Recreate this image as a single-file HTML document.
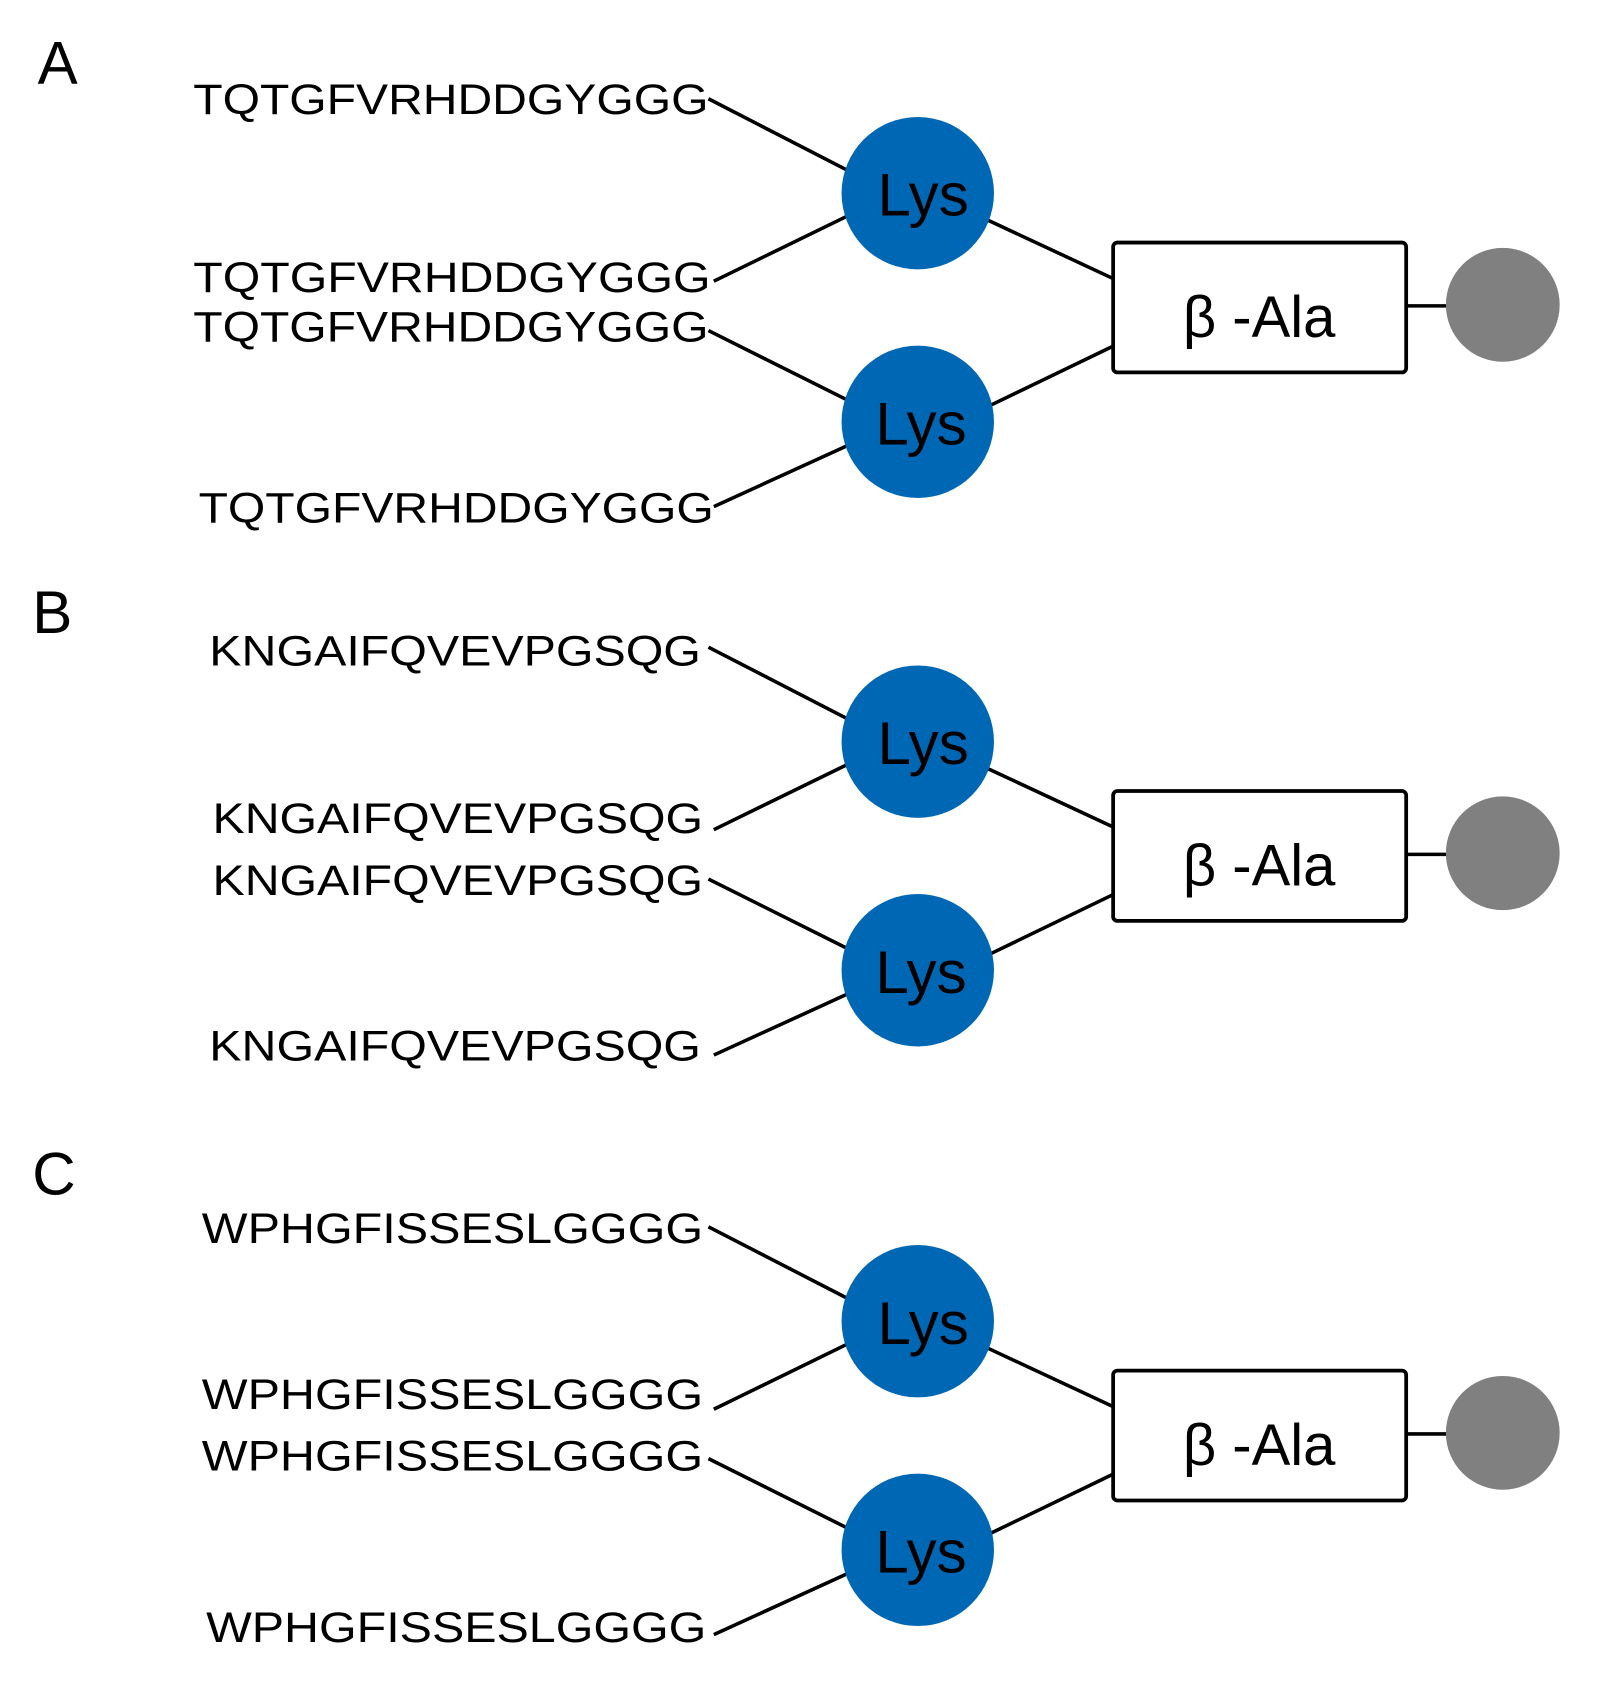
<!DOCTYPE html>
<html><head><meta charset="utf-8"><style>
html,body{margin:0;padding:0;background:#fff;}
svg{display:block;}
text{font-family:"Liberation Sans",Arial,sans-serif;fill:#000;}
</style></head><body>
<svg width="1623" height="1684" viewBox="0 0 1512 1569" preserveAspectRatio="none">
<defs>
<g id="panel">
  <line x1="660" y1="92" x2="792" y2="160" stroke="#000" stroke-width="3.3"/>
  <line x1="665" y1="262" x2="792" y2="200" stroke="#000" stroke-width="3.3"/>
  <line x1="660" y1="308" x2="792" y2="374" stroke="#000" stroke-width="3.3"/>
  <line x1="665" y1="472" x2="792" y2="414" stroke="#000" stroke-width="3.3"/>
  <line x1="920" y1="205" x2="1038" y2="260" stroke="#000" stroke-width="3.3"/>
  <line x1="922" y1="378" x2="1038" y2="322" stroke="#000" stroke-width="3.3"/>
  <line x1="1310" y1="285" x2="1350" y2="285" stroke="#000" stroke-width="3.3"/>
  <circle cx="855" cy="180" r="71" fill="#0067b4"/>
  <circle cx="855" cy="393" r="71" fill="#0067b4"/>
  <text x="860" y="201" font-size="56" text-anchor="middle">Lys</text>
  <text x="858" y="414" font-size="56" text-anchor="middle">Lys</text>
  <rect x="1037" y="226" width="273" height="121" rx="4" fill="#fff" stroke="#000" stroke-width="3.5"/>
  <text x="1173" y="314" font-size="54" text-anchor="middle">β -Ala</text>
  <circle cx="1400" cy="284" r="53" fill="#808080"/>
</g>
</defs>

<text x="35" y="78" font-size="56">A</text>
<use href="#panel"/>
<text x="180" y="106" font-size="40" textLength="480" lengthAdjust="spacingAndGlyphs">TQTGFVRHDDGYGGG</text>
<text x="180" y="272" font-size="40" textLength="482" lengthAdjust="spacingAndGlyphs">TQTGFVRHDDGYGGG</text>
<text x="180" y="318" font-size="40" textLength="480" lengthAdjust="spacingAndGlyphs">TQTGFVRHDDGYGGG</text>
<text x="185" y="487" font-size="40" textLength="480" lengthAdjust="spacingAndGlyphs">TQTGFVRHDDGYGGG</text>

<text x="30" y="590" font-size="56">B</text>
<use href="#panel" y="511"/>
<text x="195" y="620" font-size="40" textLength="458" lengthAdjust="spacingAndGlyphs">KNGAIFQVEVPGSQG</text>
<text x="198" y="776" font-size="40" textLength="457" lengthAdjust="spacingAndGlyphs">KNGAIFQVEVPGSQG</text>
<text x="198" y="834" font-size="40" textLength="457" lengthAdjust="spacingAndGlyphs">KNGAIFQVEVPGSQG</text>
<text x="195" y="988" font-size="40" textLength="458" lengthAdjust="spacingAndGlyphs">KNGAIFQVEVPGSQG</text>

<text x="30" y="1113" font-size="56">C</text>
<use href="#panel" y="1051"/>
<text x="188" y="1158" font-size="40" textLength="467" lengthAdjust="spacingAndGlyphs">WPHGFISSESLGGGG</text>
<text x="188" y="1313" font-size="40" textLength="467" lengthAdjust="spacingAndGlyphs">WPHGFISSESLGGGG</text>
<text x="188" y="1370" font-size="40" textLength="467" lengthAdjust="spacingAndGlyphs">WPHGFISSESLGGGG</text>
<text x="192" y="1530" font-size="40" textLength="466" lengthAdjust="spacingAndGlyphs">WPHGFISSESLGGGG</text>
</svg>
</body></html>
